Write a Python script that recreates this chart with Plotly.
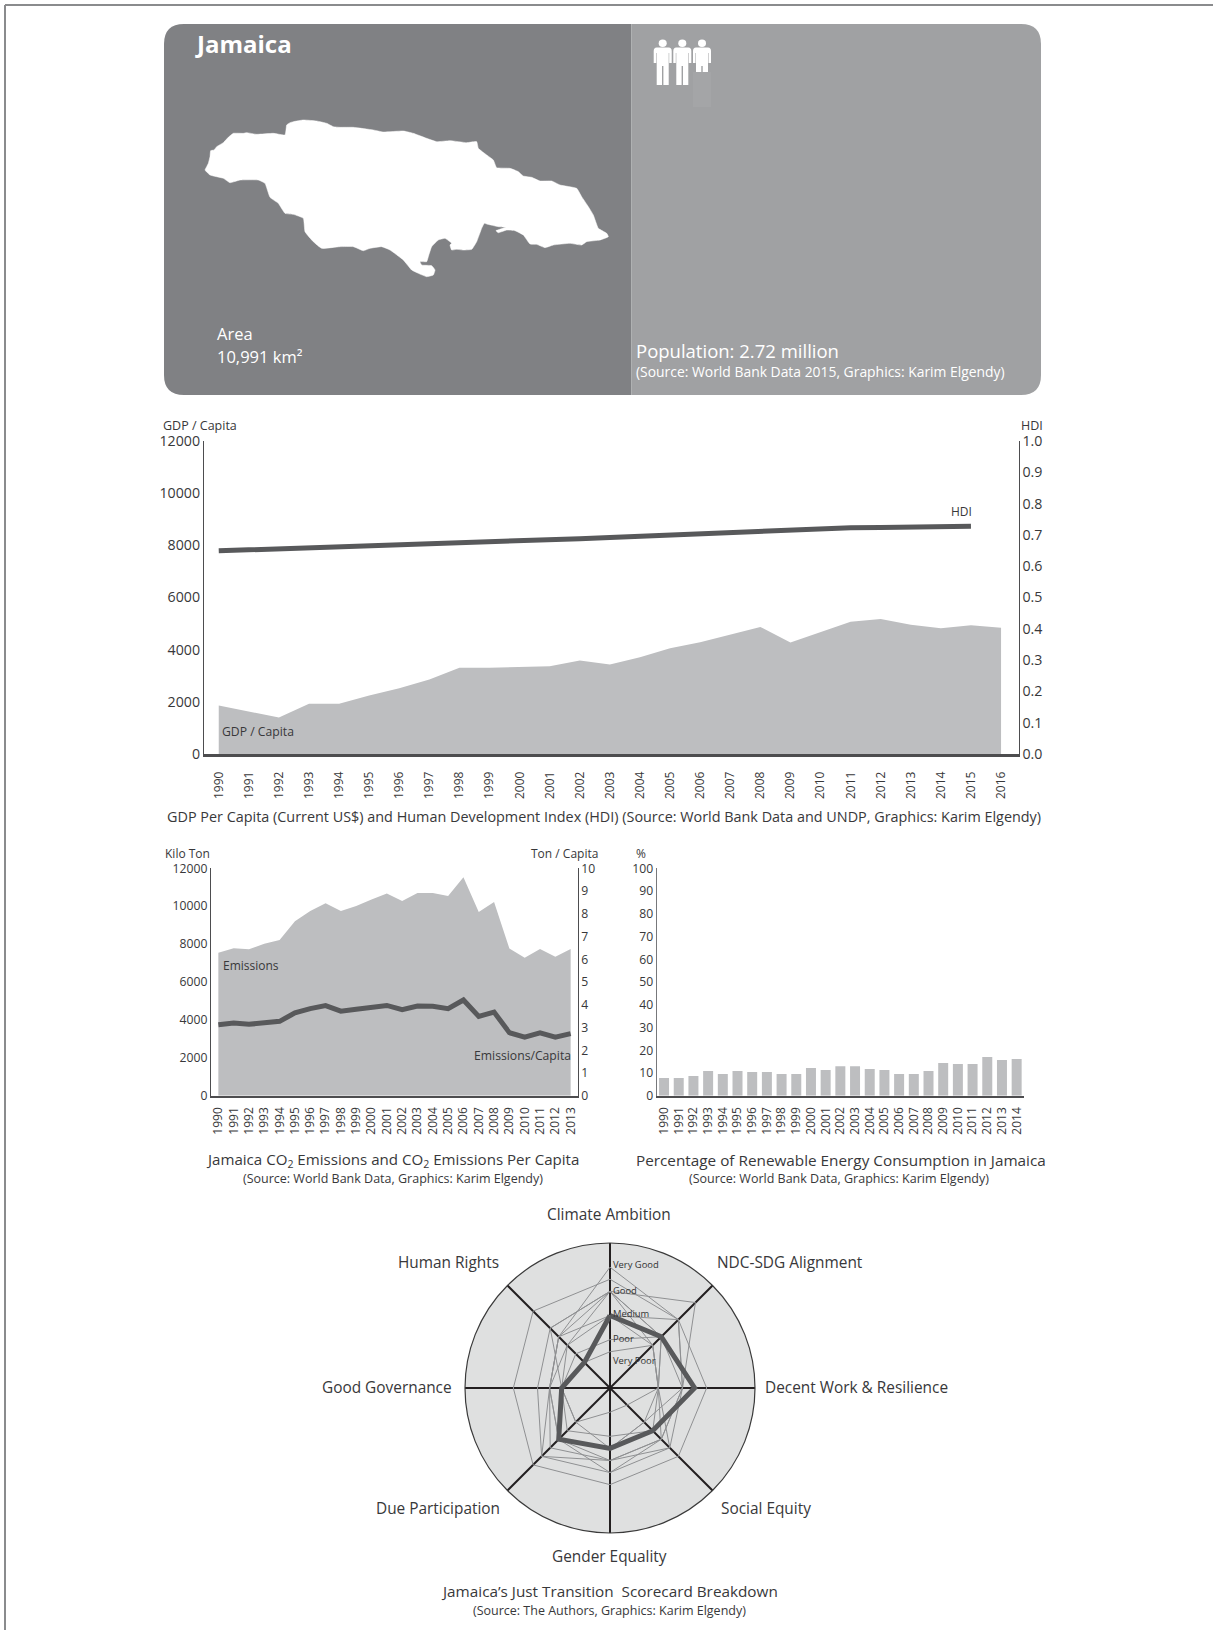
import plotly.graph_objects as go

# ---------- data ----------
gdp_years = list(range(1990, 2017))
gdp_values = [1861, 1632, 1400, 1925, 1925, 2244, 2525, 2856, 3302, 3302, 3328, 3366, 3583, 3430,
              3710, 4054, 4284, 4590, 4870, 4271, 4666, 5074, 5176, 4960, 4820, 4934, 4845]
hdi_years = list(range(1990, 2016))
hdi_values = [.649, .652, .655, .658, .661, .663, .666, .669, .672, .675, .678, .683, .688, .692,
              .696, .700, .704, .708, .712, .717, .722, .723, .724, .725, .727, .728]
co2_years = list(range(1990, 2014))
co2_values = [7550, 7780, 7726, 8025, 8219, 9205, 9750, 10155, 9750, 10014, 10350, 10666, 10278, 10700,
              10700, 10542, 11528, 9698, 10226, 7762, 7286, 7744, 7339, 7744]
co2_capita = [3.12, 3.2, 3.14, 3.23, 3.27, 3.64, 3.83, 3.96, 3.72, 3.80, 3.88, 3.97, 3.78, 3.94,
              3.93, 3.83, 4.21, 3.49, 3.68, 2.77, 2.57, 2.76, 2.57, 2.73]
ren_years = list(range(1990, 2015))
ren_values = [7.8, 7.8, 8.65, 10.85, 9.5, 10.85, 10.4, 10.4, 9.5, 9.5, 12.2, 11.3, 13, 13, 11.7, 11.3,
              9.5, 9.5, 10.85, 14.4, 13.9, 13.9, 17, 15.7, 16.1]
radar_categories = ["Climate Ambition", "NDC-SDG Alignment", "Decent Work & Resilience", "Social Equity",
                    "Gender Equality", "Due Participation", "Good Governance", "Human Rights"]
radar_jamaica = [3, 3, 3.5, 2.5, 2.5, 3, 2, 1.5]
radar_a = [4.5, 4, 4, 4, 4, 4.5, 4, 4.5]
radar_b = [4, 5, 3, 3.5, 3.5, 4, 3, 3.5]
radar_c = [5, 4, 3, 3, 3, 3, 2.5, 3]
radar_d = [4, 3, 2, 3.5, 3, 4, 2.5, 3]
radar_e = [4, 2.5, 2, 2.5, 2, 2.5, 2, 2.5]
radar_f = [3, 4, 3, 3, 3.5, 3, 2.5, 2.5]
radar_g = [2, 3, 2, 2, 2.5, 2, 2, 2]
radar_h = [1.5, 2.5, 2, 1, 1, 2, 2, 1.5]
radar_i = [4, 3, 3, 2, 2.5, 3, 2, 3.5]
radar_j = [3, 2.5, 2, 3, 3, 3.5, 2.5, 3]
radar_others = [radar_a, radar_b, radar_c, radar_d, radar_e, radar_f, radar_g, radar_h, radar_i, radar_j]
radar_levels = ["Very Good", "Good", "Medium", "Poor", "Very Poor"]
map_x = [45,50,55,60,62,72,80,100,115,130,160,170,200,250,285,288,290,300,310,340,380,410,430,450,490,550,580,640,670,710,740,780,830,860,865,890,910,920,960,985,1000,1025,1050,1085,1110,1160,1175,1195,1210,1225,1250,1255,1230,1190,1175,1140,1090,1065,1040,1020,1000,975,950,925,918,948,925,890,883,875,860,845,820,800,785,780,785,765,745,725,715,710,690,695,725,735,730,710,685,665,640,600,575,540,520,490,450,395,370,345,340,310,285,265,240,225,205,150,120,100,60,45]
map_y = [210,200,190,170,152,150,140,128,112,100,100,98,103,100,105,90,75,68,65,60,63,70,80,82,82,90,96,93,100,115,125,122,128,125,145,165,180,203,205,215,228,232,243,243,255,265,290,320,345,385,400,410,420,425,435,430,435,443,433,432,405,392,390,398,392,382,380,372,370,385,425,448,450,448,450,435,430,415,420,440,470,485,485,495,497,510,525,530,520,510,480,450,440,445,452,440,440,445,425,395,355,343,340,310,292,250,240,240,248,235,225,210]

W, H = 1213, 1630
FONT = "Open Sans"
TXT = "#38383a"
AREA = "#bdbec0"
DARK = "#58595b"


def xd(a, b):
    return [a / W, b / W]


def yd(top, bottom):
    return [1 - bottom / H, 1 - top / H]


fig = go.Figure()

# ---------- overlay in page pixels: card, map, text ----------
fig.update_layout(
    xaxis9=dict(domain=[0, 1], range=[0, W], visible=False, fixedrange=True),
    yaxis9=dict(domain=[0, 1], range=[H, 0], visible=False, fixedrange=True, anchor="x9"),
)
L, M, R, T, B, C = 164, 631.5, 1041, 24, 395, 20
shapes = [
    dict(type="path", path=f"M {L+C},{T} L {M},{T} L {M},{B} L {L+C},{B} Q {L},{B} {L},{B-C} L {L},{T+C} Q {L},{T} {L+C},{T} Z",
         fillcolor="#808184", line_width=0),
    dict(type="path", path=f"M {M},{T} L {R-C},{T} Q {R},{T} {R},{T+C} L {R},{B-C} Q {R},{B} {R-C},{B} L {M},{B} Z",
         fillcolor="#a0a1a3", line_width=0),
    dict(type="line", x0=5, x1=W, y0=5, y1=5, line=dict(color="#8a8b8d", width=2)),
    dict(type="line", x0=5, x1=5, y0=5, y1=H, line=dict(color="#8a8b8d", width=2)),
    dict(type="rect", x0=693, x1=711, y0=72, y1=107, fillcolor="#a4a5a7", line_width=0),
]


def person(cx, foot):
    p = (f"M {cx-6},47.5 L {cx+6},47.5 Q {cx+9},47.5 {cx+9},51 L {cx+9},63 L {cx+6.5},63 L {cx+6.5},53 "
         f"L {cx+6},53 L {cx+6},{foot} L {cx+0.7},{foot} L {cx+0.7},66 L {cx-0.7},66 L {cx-0.7},{foot} "
         f"L {cx-6},{foot} L {cx-6},53 L {cx-6.5},53 L {cx-6.5},63 L {cx-9},63 L {cx-9},51 Q {cx-9},47.5 {cx-6},47.5 Z")
    return [dict(type="path", path=p, fillcolor="white", line_width=0),
            dict(type="circle", x0=cx - 4, x1=cx + 4, y0=39.5, y1=47, fillcolor="white", line_width=0)]


for cx, foot in [(662.7, 85), (682.3, 85), (702, 72)]:
    shapes += person(cx, foot)
for s in shapes:
    s.update(xref="x9", yref="y9", layer="below")
fig.update_layout(shapes=shapes)

fig.add_trace(go.Scatter(x=[190 + v / 3 for v in map_x], y=[100 + v / 3 for v in map_y], xaxis="x9", yaxis="y9",
                         mode="lines", fill="toself", fillcolor="white",
                         line=dict(color="white", width=0.5, shape="spline", smoothing=0.35),
                         hoverinfo="skip", showlegend=False))

# ---------- GDP / HDI ----------
fig.add_trace(go.Scatter(x=gdp_years, y=gdp_values, mode="lines", fill="tozeroy", fillcolor=AREA,
                         line=dict(width=0, color=AREA), xaxis="x", yaxis="y", showlegend=False))
fig.add_trace(go.Scatter(x=hdi_years, y=hdi_values, mode="lines", line=dict(color=DARK, width=5),
                         xaxis="x", yaxis="y2", showlegend=False))
# ---------- CO2 ----------
fig.add_trace(go.Scatter(x=co2_years, y=co2_values, mode="lines", fill="tozeroy", fillcolor=AREA,
                         line=dict(width=0, color=AREA), xaxis="x3", yaxis="y3", showlegend=False))
fig.add_trace(go.Scatter(x=co2_years, y=co2_capita, mode="lines", line=dict(color=DARK, width=5),
                         xaxis="x3", yaxis="y4", showlegend=False))
# ---------- Renewables ----------
fig.add_trace(go.Bar(x=ren_years, y=ren_values, marker=dict(color=AREA, line_width=0), width=0.68,
                     xaxis="x5", yaxis="y5", showlegend=False))

# ---------- Radar ----------
theta = radar_categories + radar_categories[:1]
for series in radar_others:
    fig.add_trace(go.Scatterpolar(r=series + series[:1], theta=theta, mode="lines",
                                  line=dict(color="#8f9092", width=1), subplot="polar", showlegend=False))
fig.add_trace(go.Scatterpolar(r=radar_jamaica + radar_jamaica[:1], theta=theta, mode="lines",
                              line=dict(color=DARK, width=5), subplot="polar", showlegend=False))
fig.update_layout(polar=dict(
    domain=dict(x=xd(610 - 145, 610 + 145), y=yd(1388 - 145, 1388 + 145)),
    bgcolor="#dfe0e0",
    radialaxis=dict(range=[0, 6], visible=False),
    angularaxis=dict(direction="clockwise", rotation=90, type="category", categoryorder="array",
                     categoryarray=radar_categories, showticklabels=False, ticks="",
                     gridcolor="#231f20", gridwidth=1.6, linecolor="#3a3a3a", linewidth=1.2),
))


def x_axis(dom, rng, vals, anchor, size, standoff, lw):
    return dict(domain=dom, range=rng, anchor=anchor, tickmode="array", tickvals=vals, ticktext=[str(v) for v in vals],
                tickangle=-90, tickfont=dict(family=FONT, size=size, color=TXT), showgrid=False, zeroline=False,
                showline=True, linecolor="#4d4d4f", linewidth=lw, ticks="", ticklabelstandoff=standoff, fixedrange=True)


def y_axis(dom, rng, vals, anchor, size, side="left", overlay=None, labels=None, color="#4d4d4f"):
    d = dict(range=rng, anchor=anchor, side=side, tickmode="array", tickvals=vals,
             ticktext=labels or [str(v) for v in vals], tickfont=dict(family=FONT, size=size, color=TXT),
             showgrid=False, zeroline=False, showline=True, linecolor=color, linewidth=1.2, ticks="", fixedrange=True)
    if overlay:
        d["overlaying"] = overlay
    else:
        d["domain"] = dom
    return d


gdp_ticks = list(range(0, 12001, 2000))
hdi_ticks = [i / 10 for i in range(11)]
co2_ticks = list(range(0, 12001, 2000))
cap_ticks = list(range(0, 11))
ren_ticks = list(range(0, 101, 10))

fig.update_layout(
    xaxis=x_axis(xd(204, 1018.5), [1989.51, 2016.58], gdp_years, "y", 12, 10, 2.5),
    yaxis=y_axis(yd(441, 754), [0, 12000], gdp_ticks, "x", 14.2),
    yaxis2=y_axis(None, [0, 1], hdi_ticks, "x", 14.2, side="right", overlay="y", labels=[f"{v:.1f}" for v in hdi_ticks]),
    xaxis3=x_axis(xd(211, 577.7), [1989.52, 2013.46], co2_years, "y3", 12, 5, 1.5),
    yaxis3=y_axis(yd(868.3, 1095.7), [0, 12000], co2_ticks, "x3", 12.2),
    yaxis4=y_axis(None, [0, 10], cap_ticks, "x3", 12.2, side="right", overlay="y3"),
    xaxis5=x_axis(xd(656.7, 1024), [1989.5, 2014.5], ren_years, "y5", 12, 5, 1.5),
    yaxis5=y_axis(yd(868.3, 1095.7), [0, 100], ren_ticks, "x5", 12.2, color="#77787b"),
)


def note(x, y, text, size, anchor="center", color=TXT, bold=False):
    return dict(x=x, y=y, xref="x9", yref="y9", text=f"<b>{text}</b>" if bold else text, showarrow=False, xanchor=anchor,
                yanchor="middle", font=dict(family=FONT, size=size, color=color), align="left")


notes = [
    note(192.5, 43, "Jamaica", 24, "left", "white", True),
    note(214.5, 333, "Area", 16.5, "left", "white"),
    note(214.5, 356, "10,991 km²", 16.5, "left", "white"),
    note(634, 350, "Population: 2.72 million", 18.5, "left", "white"),
    note(634, 371, "(Source: World Bank Data 2015, Graphics: Karim Elgendy)", 13.9, "left", "white"),
    note(199.5, 425.5, "GDP / Capita", 12.5),
    note(1032, 425.5, "HDI", 12.5),
    note(961, 511.5, "HDI", 12),
    note(257.5, 731.5, "GDP / Capita", 12.2),
    note(604, 816.5, "GDP Per Capita (Current US$) and Human Development Index (HDI) (Source: World Bank Data and UNDP, Graphics: Karim Elgendy)", 14.4),
    note(187, 853.5, "Kilo Ton", 12),
    note(564.7, 853.5, "Ton / Capita", 12),
    note(250.5, 965.5, "Emissions", 12),
    note(522.5, 1055.5, "Emissions/Capita", 12.2),
    note(392, 1160, "Jamaica CO<sub>2</sub> Emissions and CO<sub>2</sub> Emissions Per Capita", 15.1),
    note(392.5, 1178.5, "(Source: World Bank Data, Graphics: Karim Elgendy)", 12.5),
    note(641, 853.5, "%", 12),
    note(840.5, 1160, "Percentage of Renewable Energy Consumption in Jamaica", 15.3),
    note(839, 1178.5, "(Source: World Bank Data, Graphics: Karim Elgendy)", 12.5),
    note(609, 1591, "Jamaica’s Just Transition  Scorecard Breakdown", 15.3),
    note(609, 1610, "(Source: The Authors, Graphics: Karim Elgendy)", 12.5),
]
radar_label_pos = [(609, 1214), (790, 1262), (856.5, 1387), (766, 1508), (609, 1556), (437.5, 1508), (387, 1387), (448, 1262)]
for (px, py), name in zip(radar_label_pos, radar_categories):
    notes.append(note(px, py, name, 15.4))
for py, name in zip([1264, 1290, 1313.7, 1338, 1360], radar_levels):
    notes.append(note(611, py, name, 9.4, "left", "#333333"))

fig.update_layout(
    annotations=notes, width=W, height=H, margin=dict(l=0, r=0, t=0, b=0, pad=0, autoexpand=False),
    paper_bgcolor="white", plot_bgcolor="rgba(0,0,0,0)", font=dict(family=FONT, color=TXT), showlegend=False,
    bargap=0.3,
)
fig.write_html("out.html", config={"displayModeBar": False},
               post_script="document.body.style.margin='0';")
